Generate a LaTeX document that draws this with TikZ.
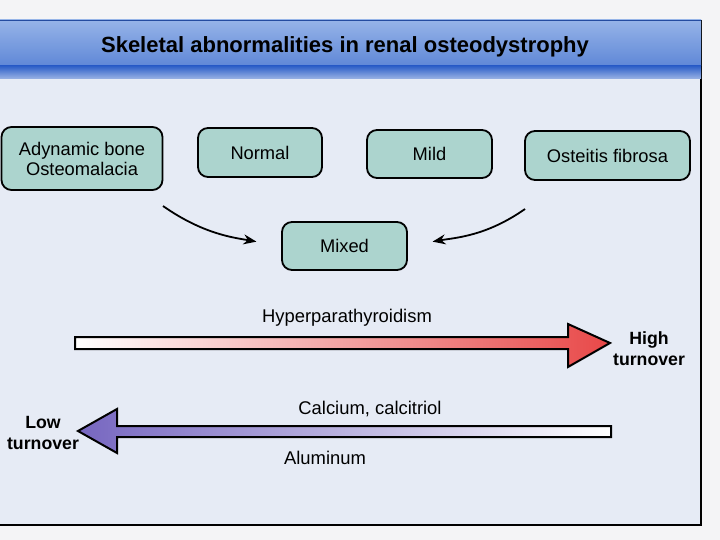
\documentclass[tikz,border=0pt]{standalone}
\usepackage{fontspec}
\setmainfont{Liberation Sans}
\usetikzlibrary{arrows.meta,positioning}
\definecolor{pagebg}{RGB}{244,244,246}
\definecolor{panelbg}{RGB}{230,235,245}
\definecolor{barlight}{RGB}{150,180,232}
\definecolor{barmid}{RGB}{95,135,215}
\definecolor{barband}{RGB}{45,95,200}
\definecolor{stagefill}{RGB}{172,212,206}
\definecolor{hired}{RGB}{232,72,72}
\definecolor{lopurple}{RGB}{118,102,192}

\tikzset{
  stagebox/.style={draw=black, line width=1.8pt, fill=stagefill, rounded corners=10pt,
    align=center, inner sep=2pt, font=\fontsize{18.3}{20}\selectfont},
  bendarrow/.style={line width=1.8pt, -{Stealth[length=13pt,width=10pt]}},
  bigarrow/.style={draw=black, line width=2pt, line join=miter},
  turnlabel/.style={align=center, font=\bfseries\fontsize{17.7}{21}\selectfont},
  axislabel/.style={font=\fontsize{18.4}{20}\selectfont},
}

\begin{document}
\begin{tikzpicture}[x=1pt, y=-1pt]
  % Page and panel
  \fill[pagebg] (0,0) rectangle (720,540);
  \useasboundingbox (0,0) rectangle (720,540);
  \fill[panelbg] (0,20) rectangle (701,525);
  \draw[line width=1.6pt] (701,20) -- (701,525) -- (0,525);
  % Title bar
  \shade[top color=barlight, bottom color=barmid] (0,20) rectangle (701,66);
  \shade[top color=barband, bottom color=barmid!55!panelbg] (0,66) rectangle (701,79);
  \draw[barband!80!black, line width=1.2pt] (0,20.6) -- (701,20.6);
  \node[font=\bfseries\fontsize{22}{24}\selectfont] (title) at (345,47)
    {Skeletal abnormalities in renal osteodystrophy};
  % Stages
  \node[stagebox, minimum width=161pt, minimum height=63pt] (adynamic) at (82,158.5)
    {Adynamic bone\\Osteomalacia};
  \node[stagebox, minimum width=124pt, minimum height=49pt] (normal) at (260,152.5) {Normal};
  \node[stagebox, minimum width=125pt, minimum height=48pt] (mild) at (429.5,154) {Mild};
  \node[stagebox, minimum width=165pt, minimum height=49pt] (osteitis) at (607.5,155.5) {Osteitis fibrosa};
  \node[stagebox, minimum width=125pt, minimum height=48pt] (mixed) at (344.5,246) {Mixed};
  % Arrows into mixed
  \coordinate (adytail) at (163,206);
  \coordinate (osttail) at (525,209);
  \draw[bendarrow, shorten >=25pt] (adytail) to[out=-35, in=170] (mixed.west);
  \draw[bendarrow, shorten >=25pt] (osttail) to[out=-145, in=10] (mixed.east);
  % High turnover arrow
  \shade[bigarrow, left color=white, right color=hired]
    (75,337) -- (568,337) -- (568,324) -- (610,343) -- (568,367) -- (568,349) -- (75,349) -- cycle;
  \node[axislabel] (hpt) at (347,318) {Hyperparathyroidism};
  \node[turnlabel] (high) at (649,349) {High\\turnover};
  % Low turnover arrow
  \shade[bigarrow, left color=lopurple, right color=white]
    (611,426) -- (117,426) -- (117,409) -- (78,431) -- (117,453) -- (117,437) -- (611,437) -- cycle;
  \node[axislabel] (calc) at (370,409) {Calcium, calcitriol};
  \node[axislabel] (alum) at (325,458) {Aluminum};
  \node[turnlabel] (low) at (43,433) {Low\\turnover};
\end{tikzpicture}
\end{document}
